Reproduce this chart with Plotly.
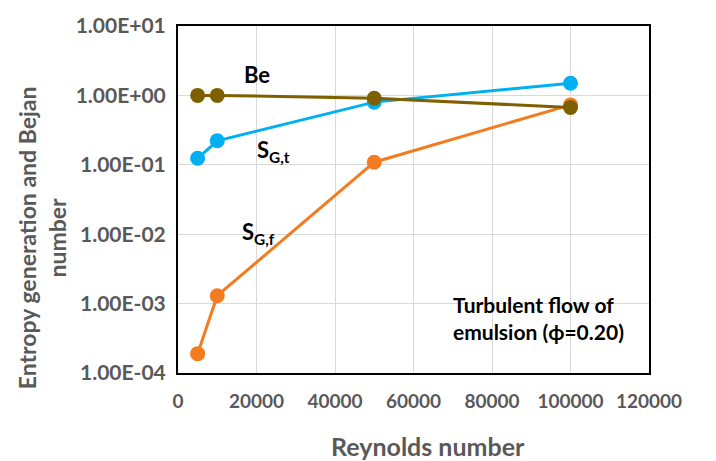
import math
import plotly.graph_objects as go

re_vals = [5000, 10000, 50000, 100000]
be_vals = [1.0, 1.0, 0.91, 0.67]
sgt_vals = [0.124, 0.222, 0.80, 1.5]
sgf_vals = [1.9e-4, 1.3e-3, 0.109, 0.73]

y_tickvals = [1e-4, 1e-3, 1e-2, 1e-1, 1e0, 1e1]
y_ticktext = ["1.00E-04", "1.00E-03", "1.00E-02", "1.00E-01", "1.00E+00", "1.00E+01"]
x_tickvals = [0, 20000, 40000, 60000, 80000, 100000, 120000]

FONT = "Lato"
GRAY = "#595959"

fig = go.Figure()
series = [
    ("S_G,t", sgt_vals, "#00B0F0"),
    ("S_G,f", sgf_vals, "#F47C20"),
    ("Be", be_vals, "#7F6000"),
]
for name, vals, col in series:
    fig.add_trace(go.Scatter(
        x=re_vals, y=vals, mode="lines+markers", name=name,
        line=dict(color=col, width=3),
        marker=dict(color=col, size=15, line=dict(width=0)),
    ))

L = math.log10

fig.update_layout(
    width=716, height=461,
    margin=dict(l=178, r=67, t=19, b=88),
    paper_bgcolor="white", plot_bgcolor="white",
    showlegend=False,
    font=dict(family=FONT, color=GRAY),
    xaxis=dict(
        range=[0, 120000], tickvals=x_tickvals,
        ticktext=[str(v) for v in x_tickvals],
        showgrid=True, gridcolor="#D9D9D9", gridwidth=1,
        showline=True, linecolor="black", linewidth=2, mirror=True,
        ticks="", ticklabelstandoff=10,
        tickfont=dict(family=FONT, size=19, color=GRAY, weight="bold"),
        zeroline=False,
    ),
    yaxis=dict(
        type="log", range=[-4, 1], tickvals=y_tickvals, ticktext=y_ticktext,
        showgrid=True, gridcolor="#D9D9D9", gridwidth=1,
        showline=True, linecolor="black", linewidth=2, mirror=True,
        ticks="", ticklabelstandoff=6,
        tickfont=dict(family=FONT, size=21, color=GRAY, weight="bold"),
        zeroline=False,
    ),
    annotations=[
        dict(text="<b>Entropy generation and Bejan<br>number</b>", textangle=-90,
             xref="paper", yref="paper", x=0, y=0.446, xshift=-136, yshift=-20,
             xanchor="center", yanchor="middle", showarrow=False,
             font=dict(family=FONT, size=23, color=GRAY)),
        dict(text="<b>Reynolds number</b>", xref="paper", yref="paper",
             x=0.531, y=-0.21, xanchor="center", yanchor="middle", showarrow=False,
             font=dict(family=FONT, size=25, color=GRAY)),
        dict(text="<b>Be</b>", xref="x", yref="y", x=20000, y=L(2.0),
             xanchor="center", yanchor="middle", showarrow=False,
             font=dict(family=FONT, size=22, color="black")),
        dict(text="<b>S<sub>G,t</sub></b>", xref="x", yref="y", x=24300, y=L(0.16),
             xanchor="center", yanchor="middle", showarrow=False,
             font=dict(family=FONT, size=22, color="black")),
        dict(text="<b>S<sub>G,f</sub></b>", xref="x", yref="y", x=20400, y=L(0.0105),
             xanchor="center", yanchor="middle", showarrow=False,
             font=dict(family=FONT, size=22, color="black")),
        dict(text="<b>Turbulent flow of<br>emulsion (ϕ=0.20)</b>", xref="x", yref="y",
             x=69500, y=L(6.3e-4), xanchor="left", yanchor="middle", showarrow=False,
             align="left", font=dict(family=FONT, size=21, color="black")),
    ],
)

fig.write_html("out.html")
